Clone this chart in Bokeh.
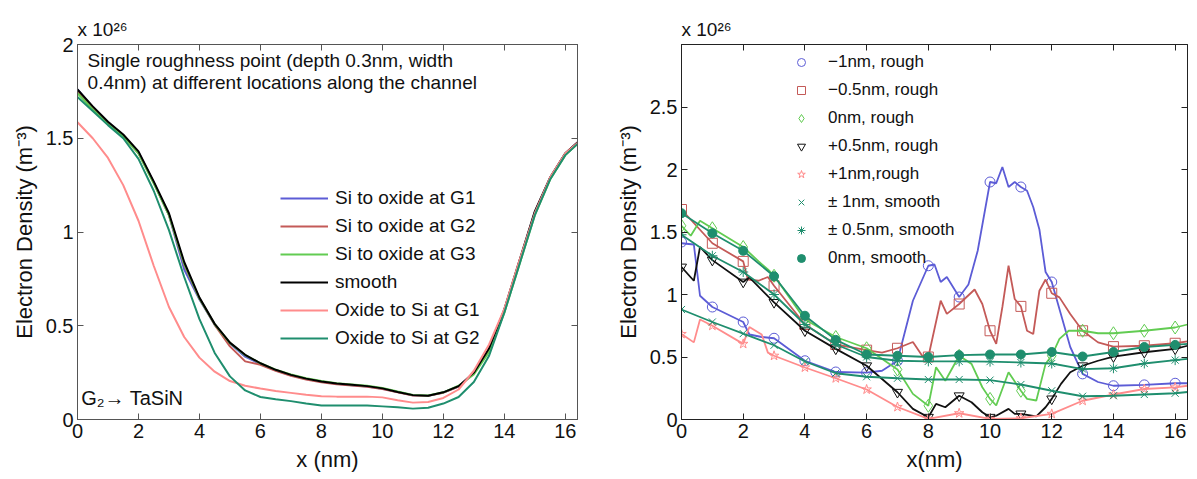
from bokeh.plotting import figure
from bokeh.models import (LinearAxis, FixedTicker, Legend, LegendItem, Label,
                          Range1d)
from bokeh.layouts import row
from bokeh.embed import file_html
from bokeh.resources import INLINE

FONT = "Liberation Sans"

# ---------------- Left panel data ----------------
xl = [0, 0.5, 1, 1.5, 2, 2.5, 3, 3.5, 4, 4.5, 5, 5.5, 6, 6.5, 7, 7.5, 8, 8.5,
      9, 9.5, 10, 10.5, 11, 11.5, 12, 12.5, 13, 13.5, 14, 14.5, 15, 15.5, 16, 16.4]
si_g1 = [1.76, 1.665, 1.585, 1.515, 1.425, 1.265, 1.09, 0.80, 0.64, 0.505, 0.405, 0.335,
         0.295, 0.262, 0.236, 0.216, 0.201, 0.19, 0.183, 0.176, 0.164, 0.146, 0.129, 0.126,
         0.144, 0.176, 0.248, 0.37, 0.58, 0.845, 1.105, 1.288, 1.418, 1.478]
si_g2 = [1.75, 1.66, 1.58, 1.51, 1.42, 1.262, 1.09, 0.825, 0.645, 0.505, 0.39, 0.31,
         0.292, 0.26, 0.233, 0.213, 0.198, 0.188, 0.181, 0.174, 0.163, 0.145, 0.128, 0.126,
         0.143, 0.175, 0.247, 0.375, 0.582, 0.843, 1.103, 1.287, 1.418, 1.477]
si_g3 = [1.74, 1.655, 1.575, 1.51, 1.42, 1.26, 1.09, 0.83, 0.645, 0.508, 0.408, 0.343,
         0.3, 0.266, 0.24, 0.22, 0.205, 0.194, 0.187, 0.18, 0.168, 0.149, 0.131, 0.128,
         0.145, 0.18, 0.24, 0.36, 0.57, 0.83, 1.09, 1.28, 1.41, 1.47]
smooth = [1.76, 1.67, 1.588, 1.52, 1.43, 1.27, 1.10, 0.84, 0.65, 0.51, 0.41, 0.345,
          0.30, 0.265, 0.238, 0.218, 0.203, 0.192, 0.185, 0.178, 0.166, 0.147, 0.13, 0.127,
          0.145, 0.178, 0.25, 0.38, 0.588, 0.85, 1.11, 1.29, 1.42, 1.478]
ox_g1 = [1.585, 1.50, 1.395, 1.25, 1.06, 0.82, 0.60, 0.44, 0.33, 0.255, 0.205, 0.18,
         0.165, 0.152, 0.142, 0.132, 0.124, 0.122, 0.122, 0.122, 0.118, 0.103, 0.09, 0.093,
         0.115, 0.16, 0.26, 0.40, 0.59, 0.85, 1.10, 1.29, 1.42, 1.475]
ox_g2 = [1.72, 1.645, 1.57, 1.50, 1.39, 1.22, 1.01, 0.76, 0.535, 0.355, 0.23, 0.155,
         0.12, 0.108, 0.098, 0.085, 0.075, 0.075, 0.075, 0.075, 0.07, 0.065, 0.058, 0.063,
         0.085, 0.12, 0.2, 0.34, 0.57, 0.83, 1.09, 1.28, 1.41, 1.47]

left_labels = ["Si to oxide at G1", "Si to oxide at G2", "Si to oxide at G3",
               "smooth", "Oxide to Si at G1", "Oxide to Si at G2"]

# ---------------- Right panel data ----------------
xi = list(range(17))   # marker positions 0..16 nm

x_m1 = [0, 0.4, 0.6, 1, 2, 2.2, 2.6, 3, 4, 5, 6, 6.5, 7, 7.5, 8, 8.2, 8.4, 8.6, 9, 9.3,
        9.6, 10, 10.2, 10.4, 10.6, 10.8, 11, 11.2, 11.4, 11.6, 11.8, 12, 12.3, 12.6, 13,
        13.5, 14, 15, 16, 16.4]
y_m1 = [1.41, 1.40, 0.99, 0.90, 0.78, 0.68, 0.66, 0.65, 0.47, 0.38, 0.375, 0.39, 0.47,
        0.95, 1.23, 1.24, 1.10, 1.14, 0.98, 1.08, 1.35, 1.90, 1.89, 2.02, 1.86, 1.90, 1.86,
        1.83, 1.70, 1.52, 1.18, 1.10, 0.84, 0.58, 0.365, 0.30, 0.27, 0.277, 0.29, 0.29]
m_m1 = [1.42, 0.90, 0.78, 0.65, 0.47, 0.38, 0.375, 0.47, 1.23, 0.98, 1.90, 1.86, 1.10,
        0.365, 0.27, 0.277, 0.29]

x_m05 = [0, 1, 2, 2.15, 2.5, 2.8, 3, 4, 5, 6, 6.5, 7, 7.5, 7.8, 8, 8.4, 8.6, 9, 9.5,
         9.75, 10, 10.2, 10.4, 10.6, 10.8, 11, 11.2, 11.4, 11.6, 11.8, 12, 12.25, 12.6, 13,
         13.5, 14, 15, 16, 16.4]
y_m05 = [1.68, 1.41, 1.265, 1.12, 1.11, 1.14, 1.07, 0.76, 0.60, 0.555, 0.535, 0.57, 0.62,
         0.51, 0.50, 0.95, 0.845, 0.924, 1.04, 0.924, 0.71, 0.605, 0.90, 1.23, 0.964, 0.905,
         0.71, 0.684, 1.03, 1.12, 1.01, 0.977, 0.844, 0.71, 0.617, 0.583, 0.59, 0.61, 0.625]
m_m05 = [1.68, 1.41, 1.265, 1.07, 0.76, 0.60, 0.555, 0.57, 0.50, 0.924, 0.71, 0.905, 1.01,
         0.71, 0.583, 0.59, 0.61]

x_0r = [0, 0.3, 0.6, 1, 2, 2.5, 2.8, 3, 4, 5, 6, 7, 7.5, 8, 8.25, 8.55, 9, 9.4, 9.75, 10,
        10.2, 10.6, 11, 11.2, 11.5, 11.8, 12, 12.25, 12.55, 13, 13.5, 14, 15, 16, 16.4]
y_0r = [1.55, 1.47, 1.59, 1.53, 1.38, 1.265, 1.20, 1.15, 0.80, 0.66, 0.57, 0.40, 0.205,
        0.11, 0.418, 0.31, 0.51, 0.445, 0.258, 0.165, 0.112, 0.378, 0.23, 0.165, 0.152,
        0.445, 0.51, 0.645, 0.71, 0.71, 0.69, 0.69, 0.71, 0.736, 0.76]
m_0r = [1.55, 1.53, 1.38, 1.15, 0.80, 0.66, 0.57, 0.40, 0.11, 0.51, 0.165, 0.23, 0.51,
        0.71, 0.69, 0.71, 0.736]

x_p05 = [0, 0.4, 0.6, 1, 2, 2.2, 3, 4, 5, 6, 7, 7.5, 8, 8.25, 8.55, 9, 9.4, 9.75, 10,
         10.2, 10.6, 10.8, 11, 11.5, 11.8, 12, 12.3, 12.6, 13, 13.5, 14, 15, 16, 16.4]
y_p05 = [1.22, 1.11, 1.38, 1.275, 1.10, 1.137, 0.937, 0.71, 0.565, 0.43, 0.218, 0.085,
         0.018, 0.125, 0.098, 0.19, 0.138, 0.058, 0.018, 0.03, 0.085, 0.045, 0.045, 0.025,
         0.098, 0.165, 0.285, 0.378, 0.43, 0.47, 0.503, 0.538, 0.565, 0.59]
m_p05 = [1.22, 1.275, 1.10, 0.937, 0.71, 0.565, 0.43, 0.218, 0.018, 0.19, 0.018, 0.045,
         0.165, 0.43, 0.503, 0.538, 0.565]

x_p1 = [0, 0.4, 0.6, 1, 2, 2.2, 2.6, 2.8, 3, 4, 5, 6, 7, 8, 9, 10, 11, 12, 13, 14, 15,
        16, 16.4]
y_p1 = [0.684, 0.617, 0.80, 0.75, 0.605, 0.74, 0.68, 0.535, 0.51, 0.416, 0.33, 0.24,
        0.10, 0.005, 0.05, 0.005, 0.01, 0.045, 0.15, 0.20, 0.244, 0.257, 0.27]
m_p1 = [0.684, 0.75, 0.605, 0.51, 0.416, 0.33, 0.24, 0.10, 0.005, 0.05, 0.005, 0.01,
        0.045, 0.15, 0.20, 0.244, 0.257]

x_sm = [0, 1, 2, 3, 4, 5, 6, 7, 8, 9, 10, 11, 12, 13, 14, 15, 16, 16.4]
y_sm1 = [0.88, 0.78, 0.687, 0.594, 0.464, 0.37, 0.342, 0.33, 0.32, 0.32, 0.315, 0.28,
         0.23, 0.186, 0.19, 0.2, 0.21, 0.22]
y_sm05 = [1.478, 1.31, 1.18, 1.0, 0.76, 0.60, 0.50, 0.47, 0.465, 0.465, 0.463, 0.456,
          0.448, 0.403, 0.41, 0.448, 0.475, 0.485]
y_sm0 = [1.65, 1.49, 1.35, 1.146, 0.83, 0.637, 0.52, 0.51, 0.50, 0.515, 0.52, 0.52,
         0.54, 0.504, 0.54, 0.58, 0.597, 0.605]

right_labels = ["\u22121nm, rough", "\u22120.5nm, rough", "0nm, rough", "+0.5nm, rough",
                "+1nm,rough", "\u00b1 1nm, smooth", "\u00b1 0.5nm, smooth", "0nm, smooth"]

xticks = [0, 2, 4, 6, 8, 10, 12, 14, 16]

BLUE = "#5c5cd6"
RED = "#c45a58"
LGREEN = "#62cc52"
BLACK = "#000000"
PINK = "#ff8c8c"
TEAL = "#1f8e6e"


def style(p, yticks, ylabel, xlabel, frame_color):
    p.xgrid.visible = False
    p.ygrid.visible = False
    p.outline_line_color = frame_color
    p.outline_line_width = 1
    p.xaxis.ticker = FixedTicker(ticks=xticks)
    p.yaxis.ticker = FixedTicker(ticks=yticks)
    p.yaxis.major_label_overrides = {t: ("%g" % t) for t in yticks}
    p.xaxis.axis_label = xlabel
    p.yaxis.axis_label = ylabel
    for ax in (p.xaxis[0], p.yaxis[0]):
        ax.major_tick_in = 6
        ax.major_tick_out = 0
        ax.minor_tick_line_color = None
        ax.axis_line_color = frame_color
        ax.major_tick_line_color = frame_color
        ax.major_label_text_font = FONT
        ax.major_label_text_font_size = "20px"
        ax.major_label_text_color = "#111111"
        ax.axis_label_text_font = FONT
        ax.axis_label_text_font_size = "22px"
        ax.axis_label_text_font_style = "normal"
        ax.axis_label_text_color = "#111111"
        ax.major_label_standoff = 4
        ax.axis_label_standoff = 6
    for loc, ticks in (("above", xticks), ("right", yticks)):
        ax = LinearAxis(ticker=FixedTicker(ticks=ticks))
        ax.major_label_text_font_size = "1px"
        ax.major_label_text_color = None
        ax.major_label_standoff = 0
        ax.major_tick_in = 6
        ax.major_tick_out = 0
        ax.minor_tick_line_color = None
        ax.axis_line_color = frame_color
        ax.major_tick_line_color = frame_color
        p.add_layout(ax, loc)
    p.title.text_font = FONT
    p.title.text_font_size = "19px"
    p.title.text_font_style = "normal"
    p.title.text_color = "#111111"
    p.title.align = "left"


# ---------------- Left figure ----------------
p1 = figure(width=600, height=479, x_range=Range1d(0, 16.4), y_range=Range1d(0, 2),
            output_backend="svg", toolbar_location=None, title="x 10\u00b2\u2076",
            min_border_left=77, min_border_right=23, min_border_top=40,
            min_border_bottom=57)
style(p1, [0, 0.5, 1, 1.5, 2], "Electron Density (m\u207b\u00b3)", "x (nm)", "#555555")

left_series = [si_g1, si_g2, si_g3, smooth, ox_g1, ox_g2]
left_colors = [BLUE, RED, LGREEN, BLACK, PINK, TEAL]
items = []
for ys, c, lab in zip(left_series, left_colors, left_labels):
    r = p1.line(xl, ys, line_color=c, line_width=2)
    items.append(LegendItem(label=lab, renderers=[r]))
leg1 = Legend(items=items, location=(203, 67), glyph_width=48, glyph_height=28,
              label_height=28, spacing=0, label_standoff=7, padding=0, margin=0,
              border_line_color=None, background_fill_alpha=0,
              label_text_font=FONT, label_text_font_size="19px",
              label_text_color="#111111")
p1.add_layout(leg1)

for txt, yv in (("Single roughness point (depth 0.3nm, width", 1.915),
                ("0.4nm) at different locations along the channel", 1.80)):
    p1.add_layout(Label(x=0.33, y=yv, text=txt, text_font=FONT, text_font_size="19px",
                        text_baseline="middle", text_color="#111111"))
p1.add_layout(Label(x=0.12, y=0.115, text="G\u2082\u2192 TaSiN", text_font=FONT,
                    text_font_size="20px", text_baseline="middle", text_color="#111111"))

# ---------------- Right figure ----------------
p2 = figure(width=597, height=479, x_range=Range1d(0, 16.4), y_range=Range1d(0, 3),
            output_backend="svg", toolbar_location=None, title="x 10\u00b2\u2076",
            min_border_left=81, min_border_right=10, min_border_top=44,
            min_border_bottom=60)
style(p2, [0, 0.5, 1, 1.5, 2, 2.5], "Electron Density (m\u207b\u00b3)", "x(nm)", "#222222")

ritems = []
specs = [
    (x_m1, y_m1, m_m1, BLUE, "circle", False),
    (x_m05, y_m05, m_m05, RED, "square", False),
    (x_0r, y_0r, m_0r, LGREEN, "diamond", False),
    (x_p05, y_p05, m_p05, "#111111", "inverted_triangle", False),
    (x_p1, y_p1, m_p1, PINK, "star", False),
    (x_sm, y_sm1, None, TEAL, "x", False),
    (x_sm, y_sm05, None, TEAL, "asterisk", False),
    (x_sm, y_sm0, None, TEAL, "circle", True),
]
for (xs, ys, ms, c, mk, filled), lab in zip(specs, right_labels):
    p2.line(xs, ys, line_color=c, line_width=1.8)
    mvals = ms if ms is not None else ys[:17]
    size = 10 if mk != "diamond" else 13
    if filled:
        r = p2.scatter(xi, mvals, marker=mk, size=9, fill_color=c, line_color=c)
    else:
        r = p2.scatter(xi, mvals, marker=mk, size=size, fill_color=None, line_color=c,
                       line_width=1)
    ritems.append(LegendItem(label=lab, renderers=[r]))
leg2 = Legend(items=ritems, location=(110, 147), glyph_width=20, glyph_height=28,
              label_height=28, spacing=0, label_standoff=17, padding=0, margin=0,
              border_line_color=None, background_fill_alpha=0,
              label_text_font=FONT, label_text_font_size="17px",
              label_text_color="#111111")
p2.add_layout(leg2)

layout = row(p1, p2)
open("out.html", "w").write(file_html(layout, INLINE))
